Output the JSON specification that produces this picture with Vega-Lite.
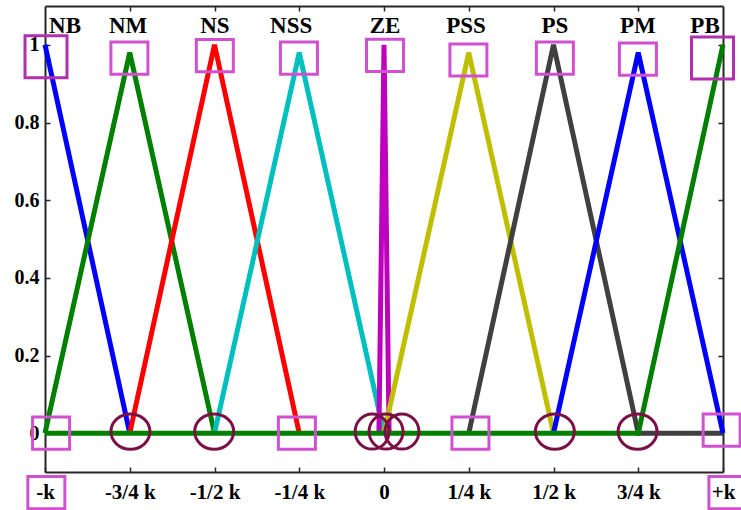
{
  "$schema": "https://vega.github.io/schema/vega-lite/v6.json",
  "width": 678,
  "height": 466,
  "autosize": {"type": "none"},
  "padding": {"left": 45, "top": 6, "right": 18, "bottom": 38},
  "background": "white",
  "config": {
    "view": {"stroke": null},
    "axis": {
      "grid": false,
      "domainColor": "#262626",
      "domainWidth": 2,
      "tickColor": "#262626",
      "tickWidth": 1.5,
      "labelFont": "Liberation Serif",
      "labelFontWeight": "bold",
      "labelColor": "#000000",
      "title": null
    }
  },
  "datasets": {
    "lines": [
      {"mf": "NB", "x": -1, "y": 1}, {"mf": "NB", "x": -0.75, "y": 0},
      {"mf": "NM", "x": -1, "y": 0}, {"mf": "NM", "x": -0.75, "y": 0.98}, {"mf": "NM", "x": -0.5, "y": 0},
      {"mf": "NS", "x": -0.75, "y": 0}, {"mf": "NS", "x": -0.5, "y": 1}, {"mf": "NS", "x": -0.25, "y": 0},
      {"mf": "NSS", "x": -0.5, "y": 0}, {"mf": "NSS", "x": -0.25, "y": 0.98}, {"mf": "NSS", "x": 0, "y": 0},
      {"mf": "ZE", "x": -0.015, "y": 0}, {"mf": "ZE", "x": 0, "y": 1}, {"mf": "ZE", "x": 0.015, "y": 0},
      {"mf": "PSS", "x": 0, "y": 0}, {"mf": "PSS", "x": 0.25, "y": 0.98}, {"mf": "PSS", "x": 0.5, "y": 0},
      {"mf": "PS", "x": 0.25, "y": 0}, {"mf": "PS", "x": 0.5, "y": 1}, {"mf": "PS", "x": 0.75, "y": 0}, {"mf": "PS", "x": 1, "y": 0},
      {"mf": "PM", "x": 0.5, "y": 0}, {"mf": "PM", "x": 0.75, "y": 0.98}, {"mf": "PM", "x": 1, "y": 0},
      {"mf": "PB", "x": -1, "y": 0}, {"mf": "PB", "x": 0.75, "y": 0}, {"mf": "PB", "x": 1, "y": 1}
    ],
    "names": [
      {"name": "NB", "x": -0.941, "y": 1.031},
      {"name": "NM", "x": -0.755, "y": 1.031},
      {"name": "NS", "x": -0.499, "y": 1.031},
      {"name": "NSS", "x": -0.274, "y": 1.031},
      {"name": "ZE", "x": 0.003, "y": 1.031},
      {"name": "PSS", "x": 0.242, "y": 1.031},
      {"name": "PS", "x": 0.504, "y": 1.031},
      {"name": "PM", "x": 0.749, "y": 1.031},
      {"name": "PB", "x": 0.947, "y": 1.031}
    ],
    "boxes": [
      {"x": -0.751, "y": 0.966}, {"x": -0.499, "y": 0.972}, {"x": -0.251, "y": 0.966},
      {"x": 0.003, "y": 0.973}, {"x": 0.249, "y": 0.961}, {"x": 0.504, "y": 0.966},
      {"x": 0.749, "y": 0.963},
      {"x": -0.982, "y": 0}, {"x": -0.257, "y": 0}, {"x": 0.255, "y": 0}, {"x": 0.996, "y": 0.008},
      {"x": -0.996, "y": -0.153}, {"x": 1.013, "y": -0.153}
    ],
    "bigBoxes": [
      {"x": -0.997, "y": 0.969}, {"x": 0.969, "y": 0.966}
    ],
    "circles": [
      {"x": -0.748, "y": 0.004}, {"x": -0.501, "y": 0.004},
      {"x": 0.504, "y": 0.004}, {"x": 0.748, "y": 0.004}
    ],
    "zeroCircles": [
      {"x": -0.035, "y": 0.004}, {"x": 0.006, "y": 0.004}, {"x": 0.053, "y": 0.004}
    ]
  },
  "resolve": {"axis": {"x": "independent", "y": "independent"}},
  "layer": [
    {
      "data": {"name": "lines"},
      "mark": {"type": "line", "strokeWidth": 5, "clip": false},
      "encoding": {
        "x": {
          "field": "x", "type": "quantitative",
          "scale": {"domain": [-1, 1], "nice": false, "zero": false},
          "axis": {
            "orient": "bottom",
            "values": [-1, -0.75, -0.5, -0.25, 0, 0.25, 0.5, 0.75, 1],
            "labelExpr": "datum.value == -1 ? '-k' : datum.value == -0.75 ? '-3/4 k' : datum.value == -0.5 ? '-1/2 k' : datum.value == -0.25 ? '-1/4 k' : datum.value == 0 ? '0' : datum.value == 0.25 ? '1/4 k' : datum.value == 0.5 ? '1/2 k' : datum.value == 0.75 ? '3/4 k' : '+k'",
            "labelFontSize": 21,
            "tickSize": -5,
            "labelPadding": 14,
            "labelFlush": false,
            "labelOverlap": false
          }
        },
        "y": {
          "field": "y", "type": "quantitative",
          "scale": {"domain": [-0.1, 1.1], "nice": false, "zero": false},
          "axis": {
            "orient": "left",
            "values": [0, 0.2, 0.4, 0.6, 0.8, 1],
            "format": ".1~f",
            "labelFontSize": 20,
            "tickSize": -5,
            "labelPadding": 11,
            "labelFlush": false,
            "labelOverlap": false
          }
        },
        "color": {
          "field": "mf", "type": "nominal",
          "scale": {
            "domain": ["NB", "NM", "NS", "NSS", "ZE", "PSS", "PS", "PM", "PB"],
            "range": ["#0000ff", "#008000", "#ff0000", "#00bfbf", "#bf00bf", "#bfbf00", "#404040", "#0000ff", "#008000"]
          },
          "legend": null
        }
      }
    },
    {
      "data": {"name": "names"},
      "mark": {"type": "text", "font": "Liberation Serif", "fontWeight": "bold", "fontSize": 23, "align": "center", "baseline": "alphabetic", "color": "#000000"},
      "encoding": {
        "x": {
          "field": "x", "type": "quantitative",
          "scale": {"domain": [-1, 1], "nice": false, "zero": false},
          "axis": {"orient": "top", "values": [-0.75, -0.5, -0.25, 0, 0.25, 0.5, 0.75], "labels": false, "tickSize": -5}
        },
        "y": {
          "field": "y", "type": "quantitative",
          "scale": {"domain": [-0.1, 1.1], "nice": false, "zero": false},
          "axis": {"orient": "right", "values": [0, 0.2, 0.4, 0.6, 0.8, 1], "labels": false, "tickSize": -5}
        },
        "text": {"field": "name"}
      }
    },
    {
      "data": {"name": "circles"},
      "mark": {"type": "point", "shape": "M-1,0A1,0.9,0,1,1,1,0A1,0.9,0,1,1,-1,0Z", "size": 1521, "filled": false, "stroke": "#7a1046", "strokeWidth": 3, "opacity": 1},
      "encoding": {
        "x": {"field": "x", "type": "quantitative", "axis": null},
        "y": {"field": "y", "type": "quantitative", "axis": null}
      }
    },
    {
      "data": {"name": "zeroCircles"},
      "mark": {"type": "point", "shape": "M-1,0A1,1.03,0,1,1,1,0A1,1.03,0,1,1,-1,0Z", "size": 1156, "filled": false, "stroke": "#7a1046", "strokeWidth": 3, "opacity": 1},
      "encoding": {
        "x": {"field": "x", "type": "quantitative", "axis": null},
        "y": {"field": "y", "type": "quantitative", "axis": null}
      }
    },
    {
      "data": {"name": "boxes"},
      "mark": {"type": "point", "shape": "M-1,-0.87H1V0.87H-1Z", "size": 1369, "filled": false, "stroke": "#d050d0", "strokeWidth": 3, "opacity": 1},
      "encoding": {
        "x": {"field": "x", "type": "quantitative", "axis": null},
        "y": {"field": "y", "type": "quantitative", "axis": null}
      }
    },
    {
      "data": {"name": "bigBoxes"},
      "mark": {"type": "point", "shape": "square", "size": 1764, "filled": false, "stroke": "#b030b0", "strokeWidth": 3, "opacity": 1},
      "encoding": {
        "x": {"field": "x", "type": "quantitative", "axis": null},
        "y": {"field": "y", "type": "quantitative", "axis": null}
      }
    }
  ]
}
